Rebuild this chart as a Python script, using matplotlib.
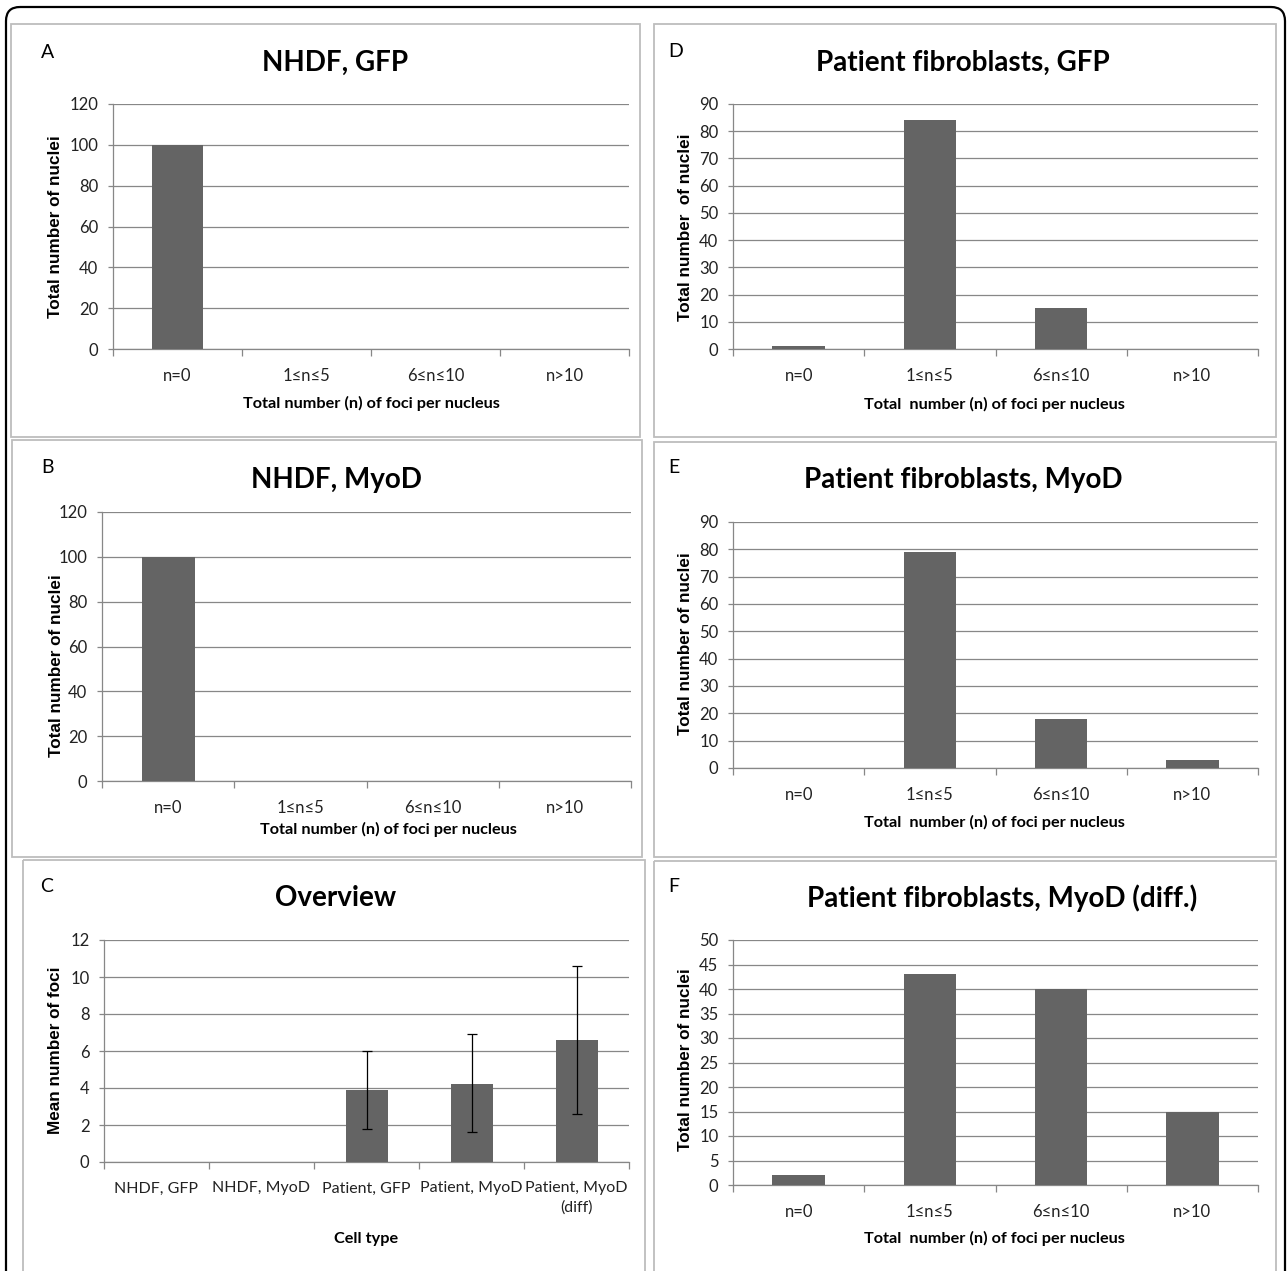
import numpy as np
import matplotlib
matplotlib.use("Agg")
import matplotlib.pyplot as plt
from matplotlib.patches import Rectangle, FancyBboxPatch
from matplotlib.transforms import Affine2D

# data
bins = ['n=0', '1≤n≤5', '6≤n≤10', 'n>10']
nhdf_gfp = [100, 0, 0, 0]
nhdf_myod = [100, 0, 0, 0]
pat_gfp = [1, 84, 15, 0]
pat_myod = [0, 79, 18, 3]
pat_myod_diff = [2, 43, 40, 15]

cell_types = ['NHDF, GFP', 'NHDF, MyoD', 'Patient, GFP', 'Patient, MyoD', 'Patient, MyoD\n(diff)']
mean_foci = [0, 0, 3.9, 4.2, 6.6]
err_low = [0, 0, 2.1, 2.6, 4.0]
err_high = [0, 0, 2.1, 2.7, 4.0]

FONT = ['Lato', 'DejaVu Sans']
plt.rcParams['font.family'] = FONT
BAR = '#646464'
GRID = '#878787'
BOX = '#bdbdbd'

W, H = 1287, 1271
fig = plt.figure(figsize=(W / 100, H / 100), dpi=100)
px = Affine2D().scale(1 / W, -1 / H).translate(0, 1) + fig.transFigure

# outer frame and panel frames
fig.patches.append(FancyBboxPatch((6, 7), 1279, 1300, boxstyle='round,pad=0,rounding_size=14',
                                  transform=px, fill=False, ec='black', lw=1.6))
for l, t, r, b in [(11, 24, 640, 437), (654, 24, 1276, 437), (12, 440, 642, 857),
                   (654, 442, 1276, 857), (23, 860, 645, 1300), (654, 861, 1276, 1300)]:
    fig.patches.append(Rectangle((l, t), r - l, b - t, transform=px, fill=False, ec=BOX, lw=1.3))


def make_axes(l, t, r, b):
    return fig.add_axes([l / W, 1 - b / H, (r - l) / W, (b - t) / H])


def style(ax, labels, ymax, ystep):
    n = len(labels)
    ax.set_xlim(-0.5, n - 0.5)
    ax.set_ylim(0, ymax)
    ax.set_yticks(np.arange(0, ymax + ystep / 2, ystep))
    ax.set_xticks(range(n))
    ax.set_xticklabels(labels)
    ax.set_xticks(np.arange(-0.5, n, 1), minor=True)
    ax.tick_params(axis='x', which='major', length=0, pad=14, labelsize=12, colors='#222222')
    ax.tick_params(axis='x', which='minor', length=5, width=0.9, color=GRID)
    ax.tick_params(axis='y', length=3.5, width=0.9, color=GRID, pad=7, labelsize=12, labelcolor='#222222')
    ax.grid(axis='y', color=GRID, lw=0.9)
    ax.set_axisbelow(True)
    for s in ['top', 'right']:
        ax.spines[s].set_visible(False)
    for s in ['left', 'bottom']:
        ax.spines[s].set_color(GRID)
        ax.spines[s].set_linewidth(0.9)
    for lab in ax.get_xticklabels():
        lab.set_linespacing(1.45)


def texts(letter, lx, ly, title, tx, ty, ylab, yx, yy, xlab, xx, xy):
    fig.text(lx, ly, letter, transform=px, fontsize=14, va='baseline', ha='left')
    fig.text(tx, ty, title, transform=px, fontsize=20, fontweight='bold', va='baseline', ha='center')
    fig.text(yx, yy, ylab, transform=px, fontsize=12.3, fontweight='bold', rotation=90,
             va='center', ha='center', family=['Liberation Sans', 'DejaVu Sans'])
    fig.text(xx, xy, xlab, transform=px, fontsize=11.7, fontweight='bold', va='baseline', ha='center')


x = np.arange(len(bins))

# A
ax = make_axes(113, 104, 629, 349)
ax.bar(x, nhdf_gfp, width=0.4, color=BAR, zorder=3)
style(ax, bins, 120, 20)
texts('A', 41, 58, 'NHDF, GFP', 335, 71, 'Total number of nuclei', 56, 227,
      'Total number (n) of foci per nucleus', 371, 408)

# B
ax = make_axes(102, 512, 631, 781)
ax.bar(x, nhdf_myod, width=0.4, color=BAR, zorder=3)
style(ax, bins, 120, 20)
texts('B', 41, 473, 'NHDF, MyoD', 336, 488, 'Total number of nuclei', 57, 666,
      'Total number (n) of foci per nucleus', 388, 834)

# C
ax = make_axes(104, 940, 629, 1162)
xc = np.arange(len(cell_types))
ax.bar(xc, mean_foci, width=0.4, color=BAR, zorder=3)
m = np.array(err_high) > 0
ax.errorbar(xc[m], np.array(mean_foci)[m],
            yerr=[np.array(err_low)[m], np.array(err_high)[m]],
            fmt='none', ecolor='black', elinewidth=0.9, capsize=3.5, capthick=0.9, zorder=4)
style(ax, cell_types, 12, 2)
for lab in ax.get_xticklabels():
    lab.set_fontsize(11.5)
texts('C', 40, 892, 'Overview', 336, 906, 'Mean number of foci', 56, 1050,
      'Cell type', 366, 1243)

# D
ax = make_axes(733, 104, 1258, 349)
ax.bar(x, pat_gfp, width=0.4, color=BAR, zorder=3)
style(ax, bins, 90, 10)
texts('D', 668, 57, 'Patient fibroblasts, GFP', 963, 71, 'Total number  of nuclei', 685, 227,
      'Total  number (n) of foci per nucleus', 994, 409)

# E
ax = make_axes(733, 522, 1258, 768)
ax.bar(x, pat_myod, width=0.4, color=BAR, zorder=3)
style(ax, bins, 90, 10)
texts('E', 668, 473, 'Patient fibroblasts, MyoD', 963, 488, 'Total number of nuclei', 685, 644,
      'Total  number (n) of foci per nucleus', 994, 827)

# F
ax = make_axes(733, 940, 1258, 1185)
ax.bar(x, pat_myod_diff, width=0.4, color=BAR, zorder=3)
style(ax, bins, 50, 5)
texts('F', 668, 892, 'Patient fibroblasts, MyoD (diff.)', 1002, 907, 'Total number of nuclei', 685, 1060,
      'Total  number (n) of foci per nucleus', 994, 1243)

fig.savefig('out.png', dpi=100)
